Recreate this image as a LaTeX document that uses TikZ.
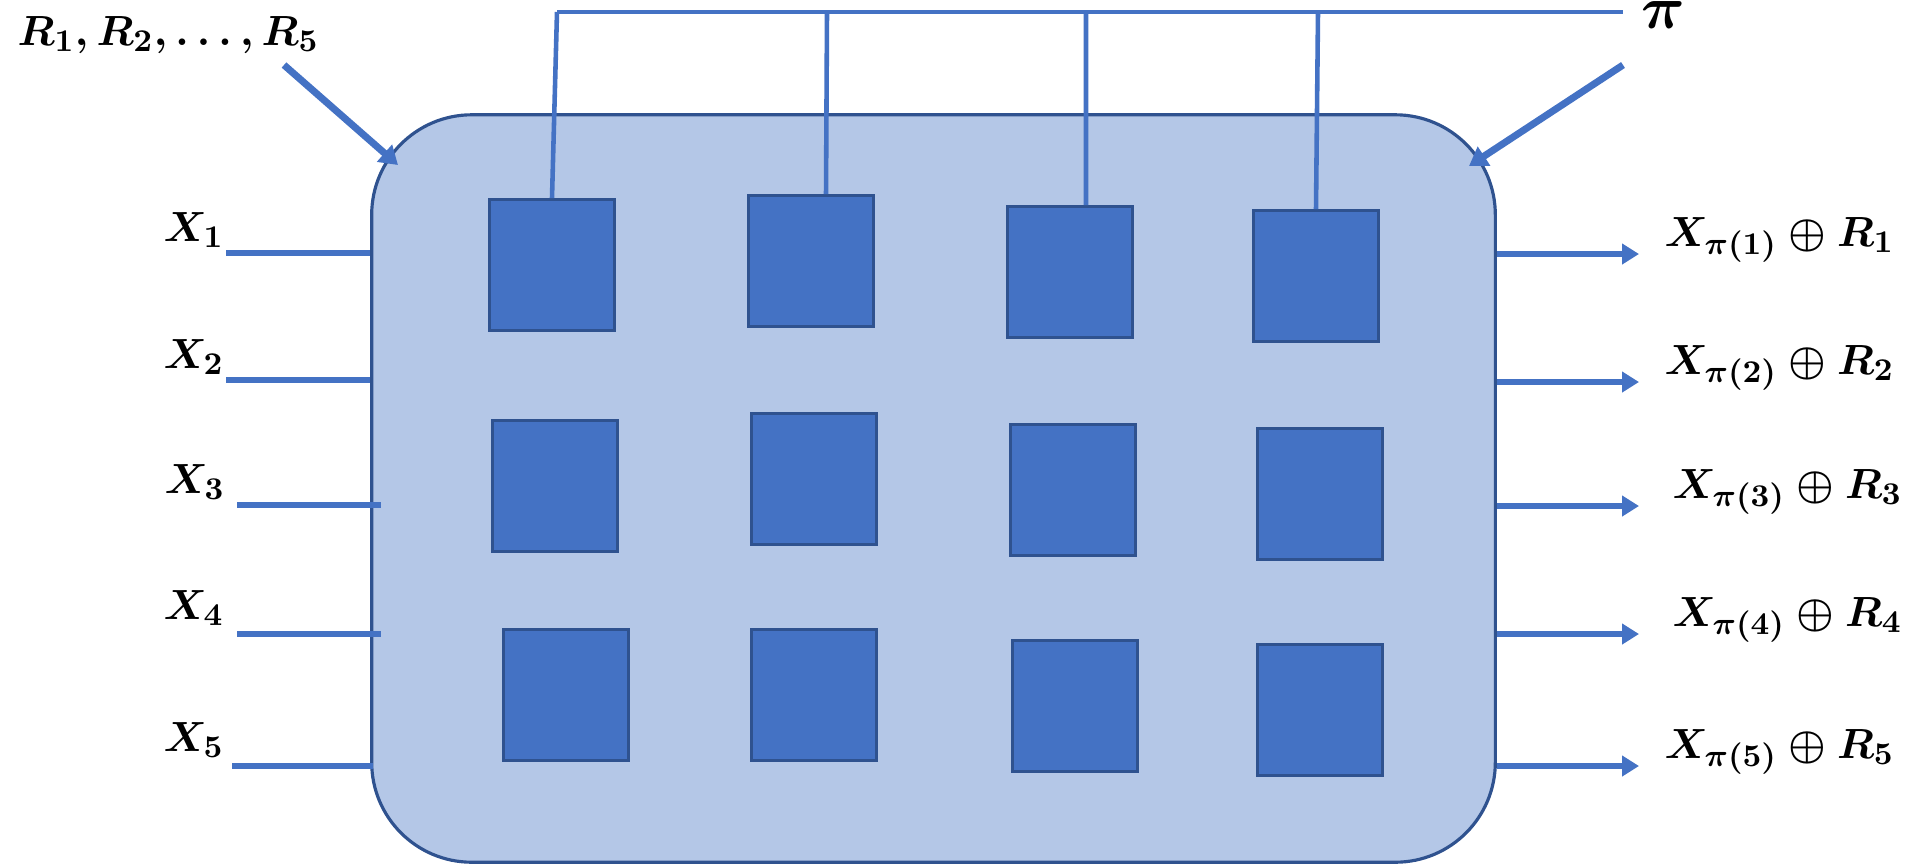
\documentclass[tikz,border=0pt]{standalone}
\usepackage{bm}
\usetikzlibrary{arrows.meta}

\definecolor{permfill}{HTML}{B4C7E7}
\definecolor{permline}{HTML}{2F528F}
\definecolor{cellblue}{HTML}{4472C4}

\begin{document}
\begin{tikzpicture}[
                x=0.01cm, y=-0.01cm,
                permbox/.style={
                    draw=permline,
                    fill=permfill,
                    line width=0.9pt,
                    rectangle,
                    rounded corners=1cm,
                    minimum width=11.23cm,
                    minimum height=7.47cm
                },
                cell/.style={
                    draw=permline,
                    fill=cellblue,
                    line width=0.8pt,
                    rectangle,
                    inner sep=0pt,
                    minimum width=1.25cm,
                    minimum height=1.31cm
                },
                wire/.style={
                    draw=cellblue,
                    line width=1.6pt
                },
                tap/.style={
                    draw=cellblue,
                    line width=1.3pt
                },
                outarrow/.style={
                    wire,
                    -{Triangle[length=0.17cm,width=0.2cm]}
                },
                inarrow/.style={
                    draw=cellblue,
                    line width=2pt,
                    -{Triangle[length=0.18cm,width=0.22cm]}
                },
                lbl/.style={
                    anchor=base west,
                    inner sep=0pt,
                    font=\fontsize{13}{15}\selectfont\boldmath
                }
            ]
    \useasboundingbox (0,0) rectangle (1918,863);

                \node[permbox] (perm) at (933.5,488.5) {};

                \node[cell] (sq11) at (552,265) {};
                \node[cell] (sq12) at (811,261) {};
                \node[cell] (sq13) at (1070,272) {};
                \node[cell] (sq14) at (1316,276) {};
                \node[cell] (sq21) at (555,486) {};
                \node[cell] (sq22) at (814,479) {};
                \node[cell] (sq23) at (1073,490) {};
                \node[cell] (sq24) at (1320,494) {};
                \node[cell] (sq31) at (566,695) {};
                \node[cell] (sq32) at (814,695) {};
                \node[cell] (sq33) at (1075,706) {};
                \node[cell] (sq34) at (1320,710) {};

                \coordinate (tap1) at (557,12);
                \coordinate (tap2) at (827,12);
                \coordinate (tap3) at (1086,12);
                \coordinate (tap4) at (1318,12);
                \coordinate (busend) at (1623,12);
                \draw[wire, line width=1.4pt] (tap1) -- (busend);
                \draw[tap] (tap1) -- (sq11.north);
                \draw[tap] (tap2) -- ([xshift=0.15cm]sq12.north);
                \draw[tap] (tap3) -- ([xshift=0.16cm]sq13.north);
                \draw[tap] (tap4) -- (sq14.north);

                \node[lbl] (rlist) at (17,45) {$R_1, R_2, \dots, R_5$};
                \node[lbl, font=\fontsize{17}{19}\selectfont\boldmath] (pilbl) at (1641,28) {$\pi$};
                \coordinate (rtail) at (284,65);
                \coordinate (rtip) at (398,165);
                \coordinate (pitail) at (1623,65);
                \coordinate (pitip) at (1469,166);
                \draw[inarrow] (rtail) -- (rtip);
                \draw[inarrow] (pitail) -- (pitip);

                \node[lbl] (lx1) at (163,241) {$X_1$};
                \node[lbl] (lx2) at (163,368) {$X_2$};
                \node[lbl] (lx3) at (164,493) {$X_3$};
                \node[lbl] (lx4) at (163,619) {$X_4$};
                \node[lbl] (lx5) at (163,751) {$X_5$};

                \coordinate (in1) at (226,253);
                \coordinate (in2) at (226,380);
                \coordinate (in3) at (237,505);
                \coordinate (in4) at (237,634);
                \coordinate (in5) at (232,766);
                \draw[wire] (in1) -- (in1 -| perm.west);
                \draw[wire] (in2) -- (in2 -| perm.west);
                \draw[wire] (in3) -- ([xshift=0.11cm]in3 -| perm.west);
                \draw[wire] (in4) -- ([xshift=0.11cm]in4 -| perm.west);
                \draw[wire] (in5) -- ([xshift=0.03cm]in5 -| perm.west);

                \coordinate (out1) at (1639,254);
                \coordinate (out2) at (1639,382);
                \coordinate (out3) at (1639,506);
                \coordinate (out4) at (1639,634);
                \coordinate (out5) at (1639,766);
                \draw[outarrow] (out1 -| perm.east) -- (out1);
                \draw[outarrow] (out2 -| perm.east) -- (out2);
                \draw[outarrow] (out3 -| perm.east) -- (out3);
                \draw[outarrow] (out4 -| perm.east) -- (out4);
                \draw[outarrow] (out5 -| perm.east) -- (out5);

                \node[lbl] (ly1) at (1664,246) {$X_{\pi(1)} \oplus R_1$};
                \node[lbl] (ly2) at (1664,374) {$X_{\pi(2)} \oplus R_2$};
                \node[lbl] (ly3) at (1672,498) {$X_{\pi(3)} \oplus R_3$};
                \node[lbl] (ly4) at (1672,626) {$X_{\pi(4)} \oplus R_4$};
                \node[lbl] (ly5) at (1664,758) {$X_{\pi(5)} \oplus R_5$};
        \end{tikzpicture}
\end{document}
